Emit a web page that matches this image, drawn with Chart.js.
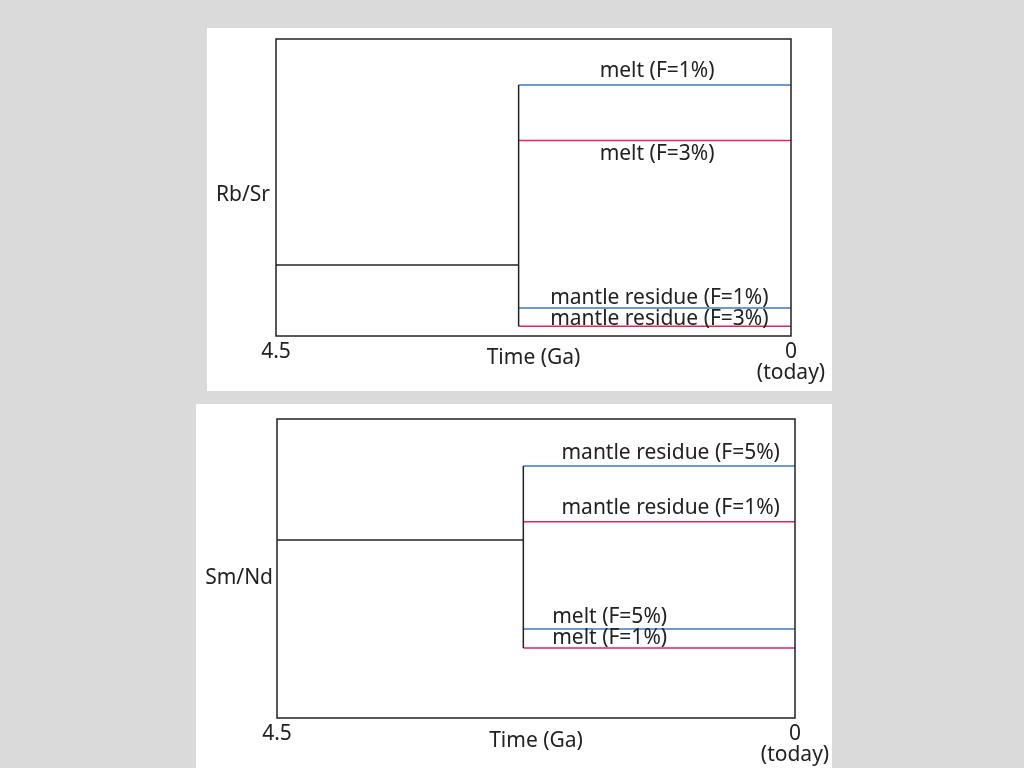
<!DOCTYPE html>
<html>
<head>
<meta charset="utf-8">
<script src="https://cdn.jsdelivr.net/npm/chart.js@4/dist/chart.umd.min.js"></script>
<style>
  body { margin: 0; background: #dadada; width: 1024px; height: 768px; overflow: hidden; position: relative; }
  .pannello { position: absolute; background: #fff; }
  #p1 { left: 207px; top: 28px; width: 625px; height: 363px; }
  #p2 { left: 196px; top: 404px; width: 636px; height: 364px; }
</style>
</head>
<body>
<div class="pannello" id="p1"><canvas id="rbsr"></canvas></div>
<div class="pannello" id="p2"><canvas id="smnd"></canvas></div>
<script>
// Asse del tempo (Ga), uguale per i due grafici
const tickTempo = [4.5, 0];
const etichetteTempo = ['4.5', ['0', '(today)']];

// Grafico Rb/Sr
const rbsrSeparazione = 2.38;           // momento della fusione (Ga)
const rbsrIniziale = 23.9;              // valore prima della fusione
const rbsrNomi = ['melt (F=1%)', 'melt (F=3%)', 'mantle residue (F=1%)', 'mantle residue (F=3%)'];
const rbsrValori = [84.5, 65.8, 9.4, 3.3];
const rbsrEtichettaX = [1.17, 1.17, 1.15, 1.15];
const rbsrEtichettaY = [89.2, 61.3, 12.8, 5.7];

// Grafico Sm/Nd
const smndSeparazione = 2.36;
const smndIniziale = 59.5;
const smndNomi = ['mantle residue (F=5%)', 'mantle residue (F=1%)', 'melt (F=5%)', 'melt (F=1%)'];
const smndValori = [84.3, 65.6, 29.8, 23.4];
const smndEtichettaX = [1.08, 1.08, 1.61, 1.61];
const smndEtichettaY = [88.6, 70.2, 33.8, 26.8];

const BLU = '#3f78bf';
const ROSSO = '#e0245c';
const NERO = '#222';
const FONT = { family: 'Noto Sans', size: 21 };

// Cornice attorno all'area del grafico + testi delle linee
const pluginCornice = {
    id: 'cornice',
    afterDatasetsDraw(chart, args, opts) {
        const { ctx, chartArea: a, scales } = chart;
        ctx.save();
        ctx.strokeStyle = NERO;
        ctx.lineWidth = 1.5;
        ctx.strokeRect(a.left, a.top, a.right - a.left, a.bottom - a.top);
        ctx.fillStyle = NERO;
        ctx.font = FONT.size + 'px "' + FONT.family + '"';
        ctx.textAlign = 'center';
        ctx.textBaseline = 'middle';
        opts.nomi.forEach((n, i) => {
            ctx.fillText(n, scales.x.getPixelForValue(opts.ex[i]), scales.y.getPixelForValue(opts.ey[i]));
        });
        ctx.restore();
    }
};

function creaGrafico(id, c) {
    const colori = [BLU, ROSSO, BLU, ROSSO];
    const datasets = [];
    // prima della fusione
    datasets.push({ data: [{ x: 4.5, y: c.iniziale }, { x: c.sep, y: c.iniziale }], borderColor: NERO });
    // linea verticale della separazione
    datasets.push({ data: [{ x: c.sep, y: Math.max(...c.valori) }, { x: c.sep, y: Math.min(...c.valori) }], borderColor: NERO });
    // fuso e residuo fino ad oggi
    c.valori.forEach((v, i) => {
        datasets.push({ data: [{ x: c.sep, y: v }, { x: 0, y: v }], borderColor: colori[i] });
    });

    new Chart(document.getElementById(id), {
        type: 'line',
        data: { datasets },
        plugins: [pluginCornice],
        options: {
            responsive: true,
            maintainAspectRatio: false,
            animation: false,
            layout: { padding: { top: c.padTop, right: c.padRight } },
            elements: { point: { radius: 0 }, line: { borderWidth: 1.5, tension: 0 } },
            scales: {
                x: {
                    type: 'linear',
                    reverse: true,
                    min: 0,
                    max: 4.5,
                    afterBuildTicks: s => { s.ticks = tickTempo.map(v => ({ value: v })); },
                    // altezza fissa, e "(today)" può uscire dal margine destro
                    afterFit: s => { s.height = c.altX; s.paddingLeft = 0; s.paddingRight = 0; },
                    ticks: {
                        autoSkip: false,
                        maxRotation: 0,
                        padding: 6,
                        color: NERO,
                        font: { family: FONT.family, size: FONT.size, lineHeight: 1.0 },
                        callback: v => etichetteTempo[tickTempo.indexOf(v)]
                    },
                    grid: { display: false, drawTicks: false },
                    border: { display: false },
                    title: { display: true, text: 'Time (Ga)', color: NERO, font: FONT, padding: { top: 0, bottom: c.padTitolo } }
                },
                y: {
                    min: 0,
                    max: 100,
                    afterBuildTicks: s => { s.ticks = [{ value: c.posEtichettaY }]; },
                    // niente margine extra sopra/sotto per l'etichetta dell'asse
                    afterFit: s => { s.width = c.largY; s.paddingTop = 0; s.paddingBottom = 0; },
                    ticks: { padding: c.padY, color: NERO, font: FONT, callback: () => c.nomeY },
                    grid: { display: false, drawTicks: false },
                    border: { display: false }
                }
            },
            plugins: {
                legend: { display: false },
                tooltip: { enabled: false },
                cornice: { nomi: c.nomi, ex: c.ex, ey: c.ey }
            }
        }
    });
}

creaGrafico('rbsr', {
    sep: rbsrSeparazione, iniziale: rbsrIniziale, valori: rbsrValori,
    nomi: rbsrNomi, ex: rbsrEtichettaX, ey: rbsrEtichettaY,
    nomeY: 'Rb/Sr', posEtichettaY: 47.5,
    padTop: 11, padRight: 41, altX: 55, largY: 69, padY: 6, padTitolo: 20
});

creaGrafico('smnd', {
    sep: smndSeparazione, iniziale: smndIniziale, valori: smndValori,
    nomi: smndNomi, ex: smndEtichettaX, ey: smndEtichettaY,
    nomeY: 'Sm/Nd', posEtichettaY: 46.8,
    padTop: 15, padRight: 37, altX: 50, largY: 81, padY: 4, padTitolo: 14
});
</script>
</body>
</html>
